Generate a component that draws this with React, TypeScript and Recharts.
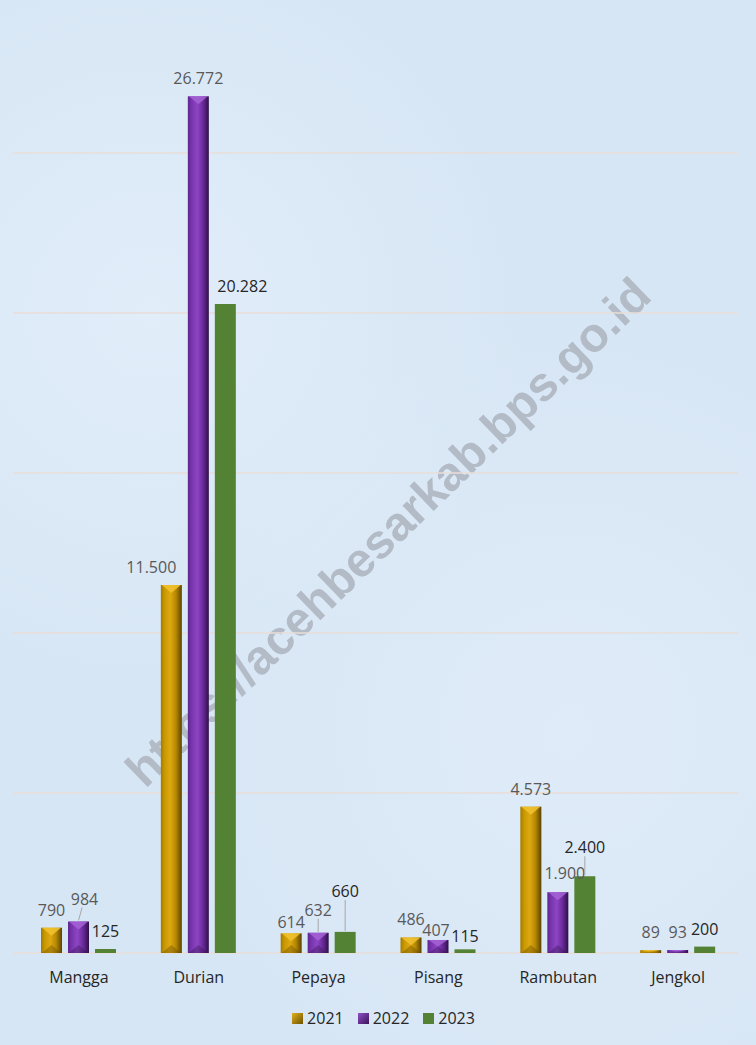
import React from "react"
import {
  BarChart,
  Bar,
  XAxis,
  YAxis,
  CartesianGrid,
  LabelList,
  Legend,
} from "recharts"

const categories = ["Mangga", "Durian", "Pepaya", "Pisang", "Rambutan", "Jengkol"]
const values2021 = [790, 11500, 614, 486, 4573, 89]
const values2022 = [984, 26772, 632, 407, 1900, 93]
const values2023 = [125, 20282, 660, 115, 2400, 200]
const yTicks = [0, 5000, 10000, 15000, 20000, 25000]
const years = ["2021", "2022", "2023"]

// label nudges (Excel labels that were dragged by hand), keyed "series-index"
const labelNudge: Record<string, { dx: number; dy: number; leader?: boolean }> = {
  "2021-1": { dx: -20, dy: 0 },
  "2021-2": { dx: 0, dy: 7 },
  "2022-0": { dx: 6, dy: -5, leader: true },
  "2022-2": { dx: 0, dy: -5, leader: true },
  "2022-3": { dx: -2, dy: 8 },
  "2022-4": { dx: 7, dy: -1 },
  "2023-1": { dx: 17, dy: 0 },
  "2023-2": { dx: 0, dy: -23, leader: true },
  "2023-3": { dx: 0, dy: 5 },
  "2023-4": { dx: 0, dy: -11, leader: true },
}

const data = categories.map((name, i) => ({
  name,
  v2021: values2021[i],
  v2022: values2022[i],
  v2023: values2023[i],
}))

const seriesValues: Record<string, number[]> = {
  "2021": values2021,
  "2022": values2022,
  "2023": values2023,
}

const fmt = (v: number) => String(v).replace(/\B(?=(\d{3})+(?!\d))/g, ".")

const BevelBar = (gradId: string, light: string, dark: string) => (props: any) => {
  const { x, y, width, height } = props
  if (!height || height <= 0) return null
  const tri = Math.min(8, height / 2)
  return (
    <g>
      <rect x={x} y={y} width={width} height={height} fill={`url(#${gradId})`} />
      <polygon
        points={`${x + 1},${y} ${x + width - 1},${y} ${x + width / 2},${y + tri}`}
        fill={light}
        opacity={0.85}
      />
      <polygon
        points={`${x + 1},${y + height} ${x + width - 1},${y + height} ${x + width / 2},${y + height - tri}`}
        fill={dark}
        opacity={0.35}
      />
    </g>
  )
}

const makeLabel = (year: string, color: string) => (props: any) => {
  const { x, y, width, value } = props
  const idx =
    props.index !== undefined ? props.index : seriesValues[year].indexOf(Number(value))
  const n = labelNudge[`${year}-${idx}`] || { dx: 0, dy: 0 }
  const cx = Number(x) + Number(width) / 2
  const cy = Number(y) - 18 + n.dy
  return (
    <g>
      {n.leader && (
        <line
          x1={cx + n.dx * 0.6}
          y1={cy + 9}
          x2={cx}
          y2={Number(y) - 1}
          stroke="#a6a6a6"
          strokeWidth={1}
        />
      )}
      <text
        x={cx + n.dx}
        y={cy}
        textAnchor="middle"
        dominantBaseline="central"
        fill={color}
        fontSize={16}
        fontFamily="'Open Sans', sans-serif"
      >
        {fmt(Number(value))}
      </text>
    </g>
  )
}

const CategoryTick = (props: any) => {
  const { x, y, payload } = props
  return (
    <text
      x={x}
      y={y}
      dy={16}
      textAnchor="middle"
      dominantBaseline="central"
      fill="#262626"
      fontSize={16}
      fontFamily="'Open Sans', sans-serif"
    >
      {payload.value}
    </text>
  )
}

const swatchStops = [
  ["#e0b020", "#6e5200"],
  ["#9050c8", "#3a1458"],
  ["#548235", "#548235"],
]

const LegendContent = () => (
  <div
    style={{
      height: 40,
      display: "flex",
      justifyContent: "center",
      alignItems: "center",
      fontFamily: "'Open Sans', sans-serif",
      fontSize: 16,
      color: "#262626",
      transform: "translateX(8px)",
    }}
  >
    {years.map((yr, i) => (
      <div key={yr} style={{ display: "flex", alignItems: "center", margin: "0 7px" }}>
        <svg width={11} height={11} style={{ marginRight: 4 }}>
          <defs>
            <linearGradient id={`lg${i}`} x1="0" y1="0" x2="1" y2="1">
              <stop offset="0%" stopColor={swatchStops[i][0]} />
              <stop offset="100%" stopColor={swatchStops[i][1]} />
            </linearGradient>
          </defs>
          <rect width={11} height={11} fill={`url(#lg${i})`} />
        </svg>
        <span>{yr}</span>
      </div>
    ))}
  </div>
)

export default function App() {
  return (
    <div
      style={{
        position: "absolute",
        left: 0,
        top: 0,
        width: 756,
        height: 1045,
        overflow: "hidden",
        background:
          "radial-gradient(circle at 20% 30%, #e1edf9 0%, rgba(225,237,249,0) 40%), radial-gradient(circle at 75% 70%, #dfebf8 0%, rgba(223,235,248,0) 45%), #d7e6f5",
      }}
    >
      <div
        style={{
          position: "absolute",
          left: 388,
          top: 532,
          transform: "translate(-50%, -50%) rotate(-44deg)",
          whiteSpace: "nowrap",
          fontFamily: "'Liberation Sans', Arial, sans-serif",
          fontWeight: "bold",
          fontSize: 48,
          color: "#b2bbc6",
        }}
      >
        https://acehbesarkab.bps.go.id
      </div>
      <div style={{ position: "absolute", left: 0, top: 0 }}>
        <BarChart
          width={756}
          height={1045}
          data={data}
          margin={{ top: 33, right: 18, left: 13, bottom: 22 }}
          barSize={21}
          barGap={6}
        >
          <defs>
            <linearGradient id="goldH" x1="0" y1="0" x2="1" y2="0">
              <stop offset="0%" stopColor="#a47a00" />
              <stop offset="18%" stopColor="#c99900" />
              <stop offset="45%" stopColor="#dea812" />
              <stop offset="72%" stopColor="#b58800" />
              <stop offset="100%" stopColor="#5a4300" />
            </linearGradient>
            <linearGradient id="purpleH" x1="0" y1="0" x2="1" y2="0">
              <stop offset="0%" stopColor="#5e2690" />
              <stop offset="18%" stopColor="#7a34ae" />
              <stop offset="45%" stopColor="#8e45c4" />
              <stop offset="72%" stopColor="#6a2a9a" />
              <stop offset="100%" stopColor="#2e1048" />
            </linearGradient>
          </defs>
          <CartesianGrid
            vertical={false}
            horizontalValues={yTicks}
            stroke="#e9ded9"
            strokeWidth={1.5}
          />
          <XAxis
            dataKey="name"
            axisLine={false}
            tickLine={false}
            height={30}
            padding={{ left: 6, right: 0 }}
            tick={<CategoryTick />}
            interval={0}
          />
          <YAxis hide domain={[0, 28750]} ticks={yTicks} />
          <Legend verticalAlign="bottom" content={<LegendContent />} wrapperStyle={{ bottom: 7 }} />
          <Bar
            dataKey="v2021"
            name="2021"
            fill="#c99900"
            shape={BevelBar("goldH", "#f2c330", "#5a4300")}
            isAnimationActive={false}
          >
            <LabelList dataKey="v2021" content={makeLabel("2021", "#595959")} />
          </Bar>
          <Bar
            dataKey="v2022"
            name="2022"
            fill="#7030a0"
            shape={BevelBar("purpleH", "#a463d6", "#2e1048")}
            isAnimationActive={false}
          >
            <LabelList dataKey="v2022" content={makeLabel("2022", "#595959")} />
          </Bar>
          <Bar dataKey="v2023" name="2023" fill="#548235" isAnimationActive={false}>
            <LabelList dataKey="v2023" content={makeLabel("2023", "#262626")} />
          </Bar>
        </BarChart>
      </div>
    </div>
  )
}
